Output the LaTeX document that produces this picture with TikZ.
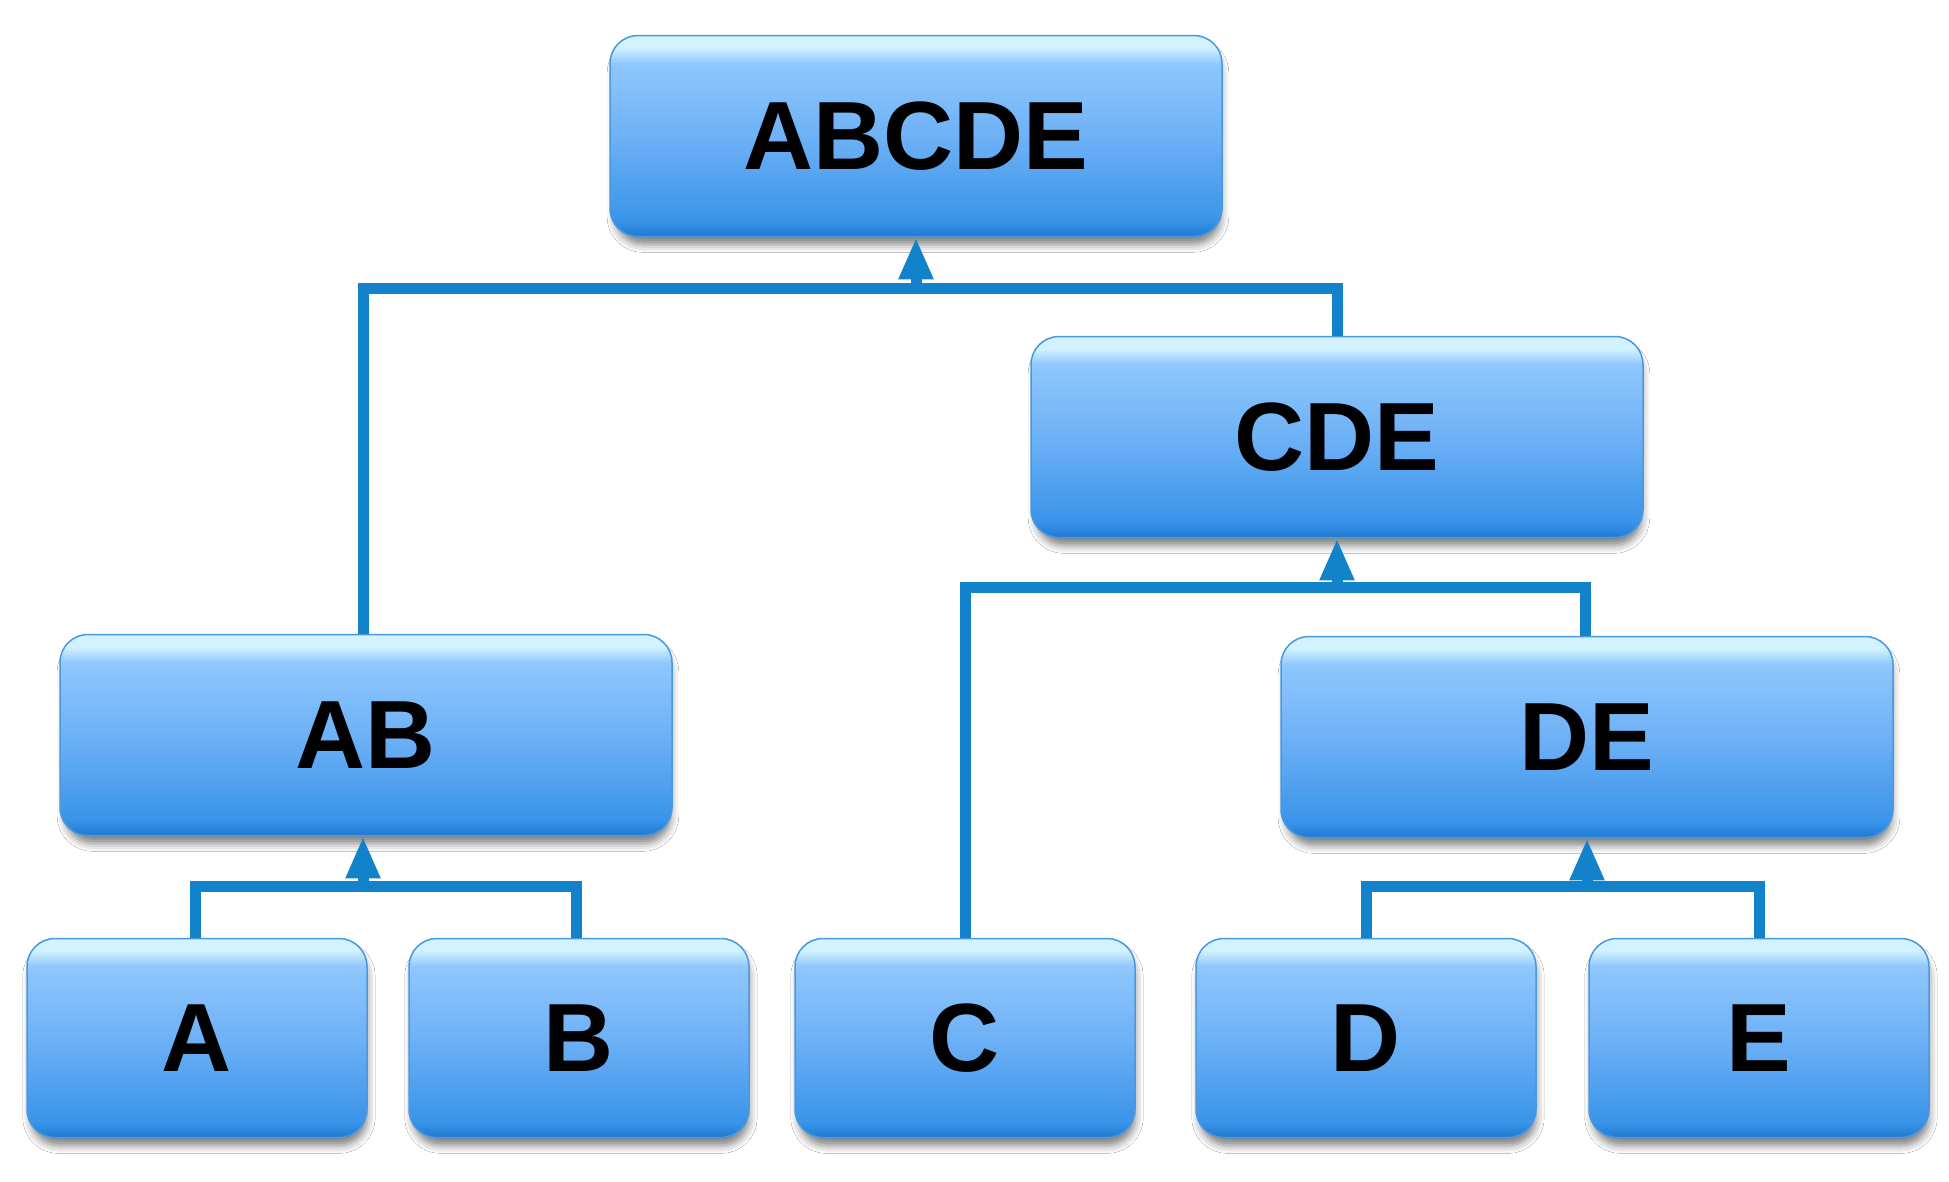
\documentclass[tikz,border=0pt]{standalone}
\usepackage{fontspec}
\setmainfont{Liberation Sans}
\usetikzlibrary{shadows.blur,arrows.meta}
\definecolor{cbot}{HTML}{1E7AD2}
\definecolor{clow}{HTML}{3A94E9}
\definecolor{cmid}{HTML}{6EB1F6}
\definecolor{chigh}{HTML}{8FC7FD}
\definecolor{ctop}{HTML}{D2F2FF}
\definecolor{boxline}{HTML}{4A98DE}
\definecolor{conn}{HTML}{1283CB}
\pgfdeclareverticalshading{boxshade}{100bp}{color(0bp)=(cbot); color(25bp)=(cbot); color(29bp)=(clow); color(50bp)=(cmid); color(68bp)=(chigh); color(72bp)=(ctop); color(75bp)=(ctop); color(100bp)=(ctop)}
\tikzset{
  box/.style={rectangle, rounded corners=28pt, draw=boxline, line width=1.5pt,
    shading=boxshade,
    blur shadow={shadow xshift=2pt, shadow yshift=-9pt, shadow blur radius=8pt, shadow opacity=50, shadow scale=0.99},
    font=\fontsize{97}{100}\selectfont\bfseries, text=black,
    inner sep=0pt},
  wide/.style={minimum width=612pt, minimum height=201pt},
  leaf/.style={minimum width=340pt, minimum height=199pt},
  conline/.style={draw=conn, line width=11pt},
  uparrow/.style={draw=conn, line width=11pt, -{Triangle[length=42pt,width=32pt]}}
}
\begin{document}
\begin{tikzpicture}[x=1pt,y=-1pt]
\useasboundingbox (0,0) rectangle (1949,1181);
\fill[white] (0,0) rectangle (1949,1181);
% nodes
\node[box,wide] (ABCDE) at (916,136) {ABCDE};
\node[box,wide] (CDE) at (1337,437) {CDE};
\node[box,wide] (AB) at (366,735) {AB};
\node[box,wide] (DE) at (1587,737) {DE};
\node[box,leaf] (A) at (197,1038) {A};
\node[box,leaf] (B) at (579,1038) {B};
\node[box,leaf] (C) at (965,1038) {C};
\node[box,leaf] (D) at (1366,1038) {D};
\node[box,leaf] (E) at (1759,1038) {E};
% junctions
\coordinate (jABCDE) at (916,288);
\coordinate (jCDE) at (1337,587);
\coordinate (jAB) at (363,886);
\coordinate (jDE) at (1587,886);
% connectors
\draw[conline] ([xshift=-3pt]AB.north) |- (jABCDE) -| (CDE.north);
\draw[uparrow] (jABCDE) -- (ABCDE.south);
\draw[conline] (C.north) |- (jCDE) -| ([xshift=-2pt]DE.north);
\draw[uparrow] (jCDE) -- (CDE.south);
\draw[conline] ([xshift=-2pt]A.north) |- (jAB) -| ([xshift=-3pt]B.north);
\draw[uparrow] (jAB) -- ([xshift=-3pt]AB.south);
\draw[conline] (D.north) |- (jDE) -| (E.north);
\draw[uparrow] (jDE) -- (DE.south);
\end{tikzpicture}
\end{document}
